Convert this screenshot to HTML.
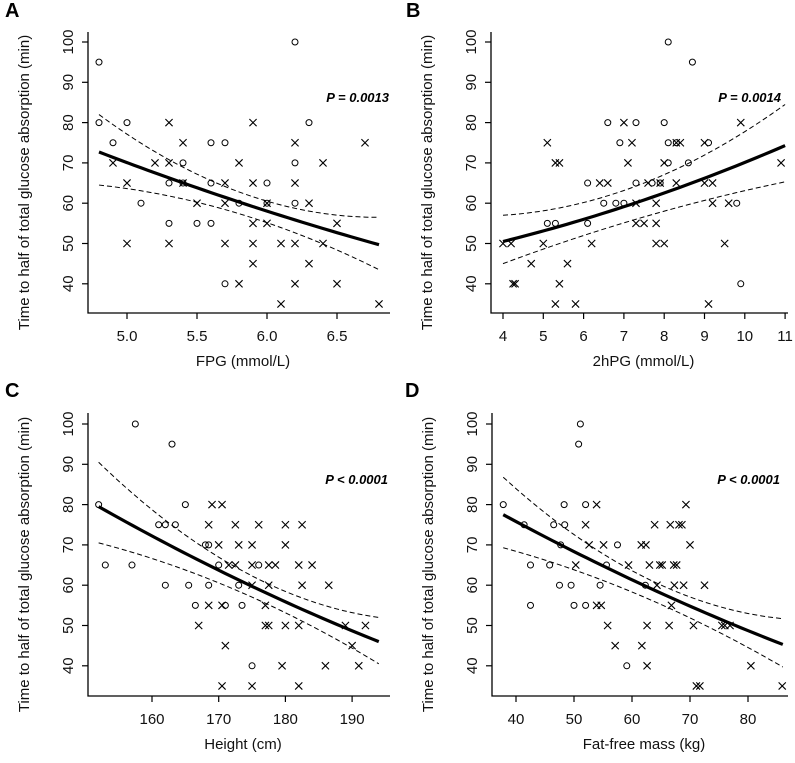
<!DOCTYPE html>
<html><head><meta charset="utf-8"><style>
html,body{margin:0;padding:0;background:#fff;}
svg{display:block;font-family:"Liberation Sans",Arial,sans-serif;}
</style></head><body>
<svg id="fig" width="795" height="763" viewBox="0 0 795 763"></svg>
<script>
// ---- Panel A data (FPG) ----
const aCircX=[4.8,4.8,4.9,5.0,5.1,5.3,5.3,5.4,5.4,5.5,5.6,5.6,5.6,5.7,5.7,5.8,6.0,6.0,6.2,6.2,6.2,6.3];
const aCircY=[95,80,75,80,60,65,55,70,65,55,75,65,55,75,40,60,65,60,100,70,60,80];
const aCrossX=[4.9,5.0,5.0,5.2,5.3,5.3,5.3,5.4,5.4,5.5,5.7,5.7,5.7,5.8,5.8,5.9,5.9,5.9,5.9,5.9,6.0,6.0,6.1,6.1,6.2,6.2,6.2,6.2,6.3,6.3,6.4,6.4,6.5,6.5,6.7,6.8];
const aCrossY=[70,65,50,70,80,70,50,75,65,60,65,60,50,70,40,80,65,55,50,45,60,55,50,35,75,65,50,40,60,45,70,50,55,40,75,35];
const aFitX=[4.8,5.8,6.8];
const aFit=[72.7,60.3,49.7];
const aUpper=[82,62.8,56.5];
const aLower=[64.5,57.4,43.5];
const aTicksX=[5.0,5.5,6.0,6.5];
// ---- Panel B data (2hPG) ----
const bCircX=[5.1,5.3,6.1,6.1,6.5,6.6,6.8,6.9,7.0,7.3,7.3,7.7,7.9,8.0,8.1,8.1,8.1,8.3,8.6,8.7,9.1,9.8,9.9];
const bCircY=[55,55,65,55,60,80,60,75,60,80,65,65,65,80,100,75,70,75,70,95,75,60,40];
const bCrossX=[4.0,4.2,4.25,4.3,4.7,5.0,5.1,5.3,5.4,5.3,5.4,5.6,5.8,6.2,6.4,6.6,7.0,7.1,7.2,7.3,7.3,7.5,7.6,7.8,7.8,7.8,7.9,8.0,8.0,8.3,8.4,8.3,9.0,9.0,9.1,9.2,9.2,9.5,9.6,9.9,10.9];
const bCrossY=[50,50,40,40,45,50,75,70,70,35,40,45,35,50,65,65,80,70,75,60,55,55,65,60,55,50,65,70,50,75,75,65,75,65,35,65,60,50,60,80,70];
const bFitX=[4,7.5,11];
const bFit=[50.5,60.8,74.3];
const bUpper=[57,65,84.5];
const bLower=[45,56.6,65.3];
const bTicksX=[4,5,6,7,8,9,10,11];
// ---- Panel C data (Height) ----
const cCircX=[152,153,157,157.5,161,162,162,163,163.5,165,165.5,166.5,168,168.5,168.5,170,171,173,173.5,175,176];
const cCircY=[80,65,65,100,75,75,60,95,75,80,60,55,70,70,60,65,55,60,55,40,65];
const cCrossX=[167,168.5,168.5,169,170.5,170,170.5,171,170.5,171.5,172.5,172.5,173,175,175,175,175,176,177,177,177.5,177.5,177.5,178.5,179.5,180,180,180,182,182,182,182.5,182.5,184,186,186.5,189,190,191,192];
const cCrossY=[50,75,55,80,80,70,55,45,35,65,65,75,70,70,65,60,35,75,55,50,50,65,60,65,40,75,70,50,65,50,35,75,60,65,40,60,50,45,40,50];
const cFitX=[152,172,194];
const cFit=[79.5,62.1,46];
const cUpper=[90.5,65,52];
const cLower=[70.5,59.2,40.5];
const cTicksX=[160,170,180,190];
// ---- Panel D data (Fat-free mass) ----
const dCircX=[37.8,41.4,42.5,42.5,45.8,46.5,47.5,47.7,48.3,48.4,49.5,50,50.8,51.1,52,52,54.5,55.6,57.5,59.1,62.3];
const dCircY=[80,75,65,55,65,75,60,70,80,75,60,55,95,100,80,55,60,65,70,40,60];
const dCrossX=[50.3,52,52.6,53.9,53.9,54.7,55.1,55.8,57.1,59.4,61.6,61.7,62.4,62.6,62.6,63,63.9,64.3,64.8,65.2,66.4,66.6,66.8,67.2,67.3,67.7,68.1,68.6,68.9,69.3,70,70.6,71.1,71.7,72.5,75.5,76,76.9,80.5,85.9];
const dCrossY=[65,75,70,80,55,55,70,50,45,65,70,45,70,50,40,65,75,60,65,65,50,75,55,65,60,65,75,75,60,80,70,50,35,35,60,50,50,50,40,35];
const dFitX=[37.8,62,86];
const dFit=[77.5,60,45.3];
const dUpper=[86.8,62.1,51.7];
const dLower=[69.3,57.1,39.7];
const dTicksX=[40,50,60,70,80];
const yTicks=[40,50,60,70,80,90,100];

const NS="http://www.w3.org/2000/svg";
const svg=document.getElementById('fig');
function mk(tag,attrs,parent){const e=document.createElementNS(NS,tag);for(const k in attrs)e.setAttribute(k,attrs[k]);(parent||svg).appendChild(e);return e;}

function quad(xs,ys,x){let s=0;for(let i=0;i<3;i++){let t=ys[i];for(let j=0;j<3;j++){if(j!==i)t*=(x-xs[j])/(xs[i]-xs[j]);}s+=t;}return s;}

function panel(p){
  const g=mk('g',{});
  
  
  const sx=v=>p.x0px+(v-p.x0v)*p.xs;
  const sy=v=>p.y100+(100-v)*p.ys;
  const lab=mk('text',{x:p.lx,y:p.ly,'font-size':20,'font-weight':'bold'},g);lab.textContent=p.id;
  
  
  const ax=mk('path',{d:`M${p.left},${p.top}V${p.bottom}H${p.right}`,stroke:'#000','stroke-width':1.3,fill:'none'},g);
  
  
  p.ticks.forEach(t=>{
    const x=sx(t);
    mk('line',{x1:x,x2:x,y1:p.bottom,y2:p.bottom+6,stroke:'#000','stroke-width':1.2},g);
    const tt=mk('text',{x:x,y:p.bottom+28,'font-size':15,'text-anchor':'middle',fill:'#111'},g);
    tt.textContent=p.fmt(t);
    
    
  });
  yTicks.forEach(t=>{
    const y=sy(t);
    mk('line',{x1:p.left-6,x2:p.left,y1:y,y2:y,stroke:'#000','stroke-width':1.2},g);
    const tt=mk('text',{x:0,y:0,'font-size':15,'text-anchor':'middle',fill:'#111',transform:`translate(${p.left-15},${y}) rotate(-90)`},g);
    tt.textContent=t;
    
    
  });
  const yt=mk('text',{x:0,y:0,'font-size':15,'text-anchor':'middle',fill:'#111',transform:`translate(${p.left-59},${(p.top+p.bottom)/2+10}) rotate(-90)`},g);
  yt.textContent='Time to half of total glucose absorption (min)';
  
  
  const xt=mk('text',{x:(p.left+p.right)/2+4,y:p.bottom+53,'font-size':15,'text-anchor':'middle',fill:'#111'},g);
  xt.textContent=p.xlabel;
  
  
  const pt=mk('text',{x:p.px,y:p.py,'font-size':13,'font-weight':'bold','font-style':'italic','text-anchor':'end'},g);
  pt.textContent=p.ptext;
  
  
  function curve(vals,name,w,dash){
    let d='';const a=p.fx[0],b=p.fx[2];
    for(let i=0;i<=40;i++){const x=a+(b-a)*i/40;d+=(i?'L':'M')+sx(x).toFixed(2)+','+sy(quad(p.fx,vals,x)).toFixed(2);}
    const e=mk('path',{d:d,stroke:'#000','stroke-width':w,fill:'none'},g);
    if(dash)e.setAttribute('stroke-dasharray',dash);
    
    
  }
  curve(p.up,'ci-upper',1,'5,3');
  curve(p.lo,'ci-lower',1,'5,3');
  curve(p.fit,'fit-line',3.2,null);
  p.cx.forEach((v,i)=>{
    const c=mk('circle',{cx:sx(v),cy:sy(p.cy[i]),r:3,stroke:'#000','stroke-width':1,fill:'none'},g);
    
    
  });
  p.xx.forEach((v,i)=>{
    const x=sx(v),y=sy(p.xy[i]),s=3.6;
    const c=mk('path',{d:`M${x-s},${y-s}L${x+s},${y+s}M${x-s},${y+s}L${x+s},${y-s}`,stroke:'#000','stroke-width':1.1,fill:'none'},g);
    
    
  });
}
panel({id:'A',lx:5,ly:17,left:88,right:390,top:32,bottom:313,x0px:127,x0v:5.0,xs:140,y100:42,ys:4.03,ticks:aTicksX,fmt:t=>t.toFixed(1),xlabel:'FPG (mmol/L)',ptext:'P = 0.0013',px:389,py:102,cx:aCircX,cy:aCircY,xx:aCrossX,xy:aCrossY,fx:aFitX,fit:aFit,up:aUpper,lo:aLower});
panel({id:'B',lx:406,ly:17,left:491,right:788,top:32,bottom:313,x0px:503,x0v:4,xs:40.3,y100:42,ys:4.03,ticks:bTicksX,fmt:t=>String(t),xlabel:'2hPG (mmol/L)',ptext:'P = 0.0014',px:781,py:102,cx:bCircX,cy:bCircY,xx:bCrossX,xy:bCrossY,fx:bFitX,fit:bFit,up:bUpper,lo:bLower});
panel({id:'C',lx:5,ly:397,left:88,right:390,top:413,bottom:696,x0px:152,x0v:160,xs:6.67,y100:424,ys:4.03,ticks:cTicksX,fmt:t=>String(t),xlabel:'Height (cm)',ptext:'P < 0.0001',px:388,py:484,cx:cCircX,cy:cCircY,xx:cCrossX,xy:cCrossY,fx:cFitX,fit:cFit,up:cUpper,lo:cLower});
panel({id:'D',lx:405,ly:397,left:492,right:788,top:413,bottom:696,x0px:516,x0v:40,xs:5.8,y100:424,ys:4.03,ticks:dTicksX,fmt:t=>String(t),xlabel:'Fat-free mass (kg)',ptext:'P < 0.0001',px:780,py:484,cx:dCircX,cy:dCircY,xx:dCrossX,xy:dCrossY,fx:dFitX,fit:dFit,up:dUpper,lo:dLower});
</script>
</body></html>
